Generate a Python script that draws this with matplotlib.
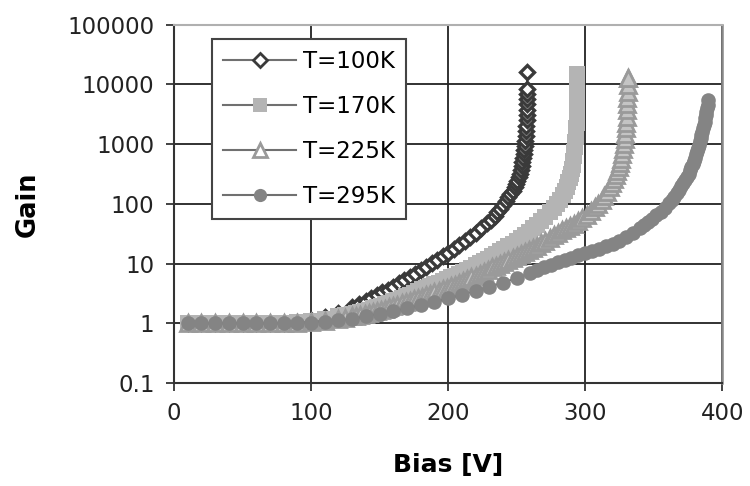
import matplotlib
matplotlib.use("Agg")
import matplotlib.pyplot as plt
from matplotlib.lines import Line2D

# ---- data ----
labels = ["T=100K", "T=170K", "T=225K", "T=295K"]

bias_100K = [10, 20, 30, 40, 50, 60, 70, 80, 90, 100, 110, 120, 130, 135, 140, 144, 148,
             152, 156, 160, 164, 168, 172, 176, 180, 184, 188, 192, 196, 200, 204, 208,
             212, 216, 220, 224, 228, 231, 234, 236, 238, 240, 242, 244, 245.5, 247,
             248.5, 249.5, 250.5, 251.5, 252.3, 253, 253.6, 254.2, 254.7, 255.2, 255.6,
             256, 256.3, 256.6, 256.9, 257.1, 257.3, 257.4, 257.5, 257.55, 257.6,
             257.65, 257.7, 257.7]
gain_100K = [1.0, 1.0, 1.0, 1.0, 1.0, 1.0, 1.0, 1.02, 1.05, 1.12, 1.25, 1.5, 1.85, 2.1,
             2.4, 2.65, 2.95, 3.3, 3.65, 4.1, 4.65, 5.25, 5.95, 6.8, 7.8, 8.9, 10.2,
             11.6, 13.3, 15.2, 17.6, 20.4, 23.7, 27.5, 33, 39, 47, 54, 63, 72, 82, 95,
             110, 128, 145, 165, 190, 215, 245, 280, 320, 370, 430, 500, 580, 680, 800,
             950, 1120, 1350, 1650, 2000, 2500, 3100, 3800, 4700, 5800, 7000, 8500,
             16000]

bias_170K = [10, 20, 30, 40, 50, 60, 70, 80, 90, 100, 110, 120, 125, 130, 133, 136, 139,
             142, 145, 148, 151, 154, 157, 160, 163, 166, 169, 172, 175, 178, 181, 184,
             187, 190, 193, 196, 199, 202, 205, 208, 211, 214, 217, 220, 223, 226, 229,
             232, 235, 238, 241, 244, 247, 250, 253, 256, 259, 262, 265, 268, 271, 274,
             277, 279.5, 281.5, 283.5, 285, 286.5, 287.7, 288.7, 289.5, 290.2, 290.8,
             291.3, 291.8, 292.2, 292.6, 292.9, 293.2, 293.4, 293.6, 293.7, 293.8,
             293.9, 294, 294, 294.1, 294.1, 294.2, 294.2]
gain_170K = [1.0, 1.0, 1.0, 1.0, 1.0, 1.0, 1.0, 1.02, 1.05, 1.1, 1.18, 1.3, 1.37, 1.45,
             1.5, 1.56, 1.63, 1.7, 1.79, 1.88, 1.98, 2.1, 2.22, 2.35, 2.5, 2.66, 2.84,
             3.03, 3.23, 3.45, 3.68, 3.93, 4.2, 4.5, 4.8, 5.13, 5.48, 5.87, 6.3, 6.77,
             7.28, 7.83, 8.45, 9.3, 10.1, 11, 12, 13.2, 14.5, 16, 17.7, 19.5, 21.6, 24,
             26.8, 30, 34, 39, 45, 52, 61, 72, 86, 100, 118, 140, 165, 195, 230, 270,
             320, 380, 450, 530, 630, 750, 900, 1080, 1300, 1550, 1850, 2250, 2700,
             3300, 4000, 5000, 6200, 7700, 9500, 15000]

bias_225K = [10, 20, 30, 40, 50, 60, 70, 80, 90, 100, 110, 120, 125, 130, 133, 136, 139,
             142, 145, 148, 151, 154, 157, 160, 163, 166, 169, 172, 175, 178, 181, 184,
             187, 190, 193, 196, 199, 202, 205, 208, 211, 214, 217, 220, 223, 226, 229,
             232, 235, 238, 241, 244, 247, 250, 253, 256, 259, 262, 265, 268, 271, 274,
             277, 280, 283, 286, 289, 292, 295, 298, 301, 304, 307, 309.5, 312, 314,
             316, 318, 319.5, 321, 322.3, 323.5, 324.5, 325.4, 326.2, 327, 327.7, 328.3,
             328.8, 329.3, 329.7, 330, 330.3, 330.5, 330.7, 330.8, 330.9, 331, 331,
             331.1]
gain_225K = [1.0, 1.0, 1.0, 1.0, 1.0, 1.0, 1.0, 1.0, 1.02, 1.05, 1.1, 1.18, 1.24, 1.3,
             1.34, 1.39, 1.44, 1.49, 1.55, 1.61, 1.68, 1.76, 1.85, 1.95, 2.05, 2.15,
             2.26, 2.38, 2.51, 2.65, 2.8, 2.96, 3.13, 3.3, 3.5, 3.7, 3.92, 4.18, 4.45,
             4.75, 5.1, 5.45, 5.85, 6.3, 6.8, 7.35, 7.95, 8.6, 9.2, 9.85, 10.6, 11.4,
             12.2, 13.2, 14.3, 15.5, 16.8, 18.3, 20, 22, 24.3, 27, 30, 33, 36, 39, 42.5,
             46.5, 51, 57, 65, 76, 88, 100, 118, 138, 160, 190, 220, 260, 305, 360, 420,
             490, 570, 680, 820, 1000, 1230, 1500, 1850, 2300, 2900, 3700, 4700, 6000,
             7600, 9800, 13000, 13000]

bias_295K = [10, 20, 30, 40, 50, 60, 70, 80, 90, 100, 110, 120, 130, 140, 150, 160, 170,
             180, 190, 200, 210, 220, 230, 240, 250, 260, 265, 270, 275, 280, 285, 290,
             295, 300, 305, 310, 315, 320, 325, 330, 335, 340, 343, 346, 349, 352, 355,
             358, 361, 363, 365, 367, 368.5, 370, 371.5, 373, 374.2, 375.4, 376.5,
             377.5, 378.4, 379.3, 380.1, 380.9, 381.6, 382.3, 383, 383.6, 384.2, 384.8,
             385.4, 386, 386.6, 387.1, 387.6, 388.1, 388.5, 388.9, 389.3, 389.6]
gain_295K = [1.0, 1.0, 1.0, 1.0, 1.0, 1.0, 1.0, 1.0, 1.0, 1.03, 1.07, 1.12, 1.19, 1.3,
             1.45, 1.6, 1.78, 2.0, 2.3, 2.6, 3.0, 3.5, 4.1, 4.8, 5.7, 7.0, 7.8, 8.7, 9.6,
             10.5, 11.5, 12.6, 13.8, 15, 16.3, 17.8, 19.5, 21.5, 24, 28, 33, 39, 44, 50,
             56, 64, 74, 86, 102, 116, 132, 152, 172, 196, 222, 252, 285, 322, 365, 412,
             465, 525, 595, 675, 765, 865, 980, 1110, 1260, 1430, 1620, 1840, 2090,
             2380, 2710, 3090, 3520, 4010, 4600, 5400]

x_ticks = [0, 100, 200, 300, 400]
y_ticks = [0.1, 1, 10, 100, 1000, 10000, 100000]
y_ticklabels = ["0.1", "1", "10", "100", "1000", "10000", "100000"]

# ---- figure ----
fig = plt.figure(figsize=(7.5, 4.86), dpi=100)
ax = fig.add_axes([0.232, 0.212, 0.731, 0.737])

line_col = "#707070"
c100, c170, c225, c295 = "#3a3a3a", "#b4b4b4", "#9a9a9a", "#848484"
ax.plot(bias_100K, gain_100K, color="#404040", lw=1.5, marker="D", ms=6.8,
        mfc="white", mec=c100, mew=2.4, zorder=3)
ax.plot(bias_170K, gain_170K, color=line_col, lw=1.5, marker="s", ms=11,
        mfc=c170, mec=c170, mew=0, zorder=4)
ax.plot(bias_225K, gain_225K, color=line_col, lw=1.5, marker="^", ms=11,
        mfc="#c4c4c4", mec=c225, mew=2.0, zorder=5)
ax.plot(bias_295K, gain_295K, color=line_col, lw=1.5, marker="o", ms=10.5,
        mfc=c295, mec=c295, mew=0, zorder=6)

handles = [
    Line2D([], [], color=line_col, lw=1.5, marker="D", ms=7, mfc="white", mec=c100, mew=2.0),
    Line2D([], [], color=line_col, lw=1.5, marker="s", ms=10, mfc=c170, mec=c170, mew=0),
    Line2D([], [], color=line_col, lw=1.5, marker="^", ms=10, mfc="white", mec=c225, mew=2.0),
    Line2D([], [], color=line_col, lw=1.5, marker="o", ms=9.5, mfc=c295, mec=c295, mew=0),
]

ax.set_yscale("log")
ax.set_xlim(0, 400)
ax.set_ylim(0.1, 100000)
ax.set_xticks(x_ticks)
ax.set_yticks(y_ticks)
ax.set_yticklabels(y_ticklabels)
ax.minorticks_off()
ax.tick_params(axis="both", labelsize=16.5, colors="#222222", length=6, width=1.2,
               direction="out", pad=8)

ax.grid(True, which="major", color="#222222", lw=1.3)
ax.set_axisbelow(True)
for side in ["left", "bottom"]:
    ax.spines[side].set_color("#333333")
    ax.spines[side].set_linewidth(1.5)
ax.spines["top"].set_color("#b0b0b0")
ax.spines["top"].set_linewidth(1.5)
ax.spines["right"].set_color("#888888")
ax.spines["right"].set_linewidth(1.8)

ax.set_xlabel("Bias [V]", fontsize=18, fontweight="bold", labelpad=20)
ax.set_ylabel("Gain", fontsize=18.5, fontweight="bold", labelpad=19)

leg = ax.legend(handles, labels, loc="upper left",
                bbox_to_anchor=(212 / 750, 1 - 39 / 486),
                bbox_transform=fig.transFigure, borderaxespad=0, fontsize=16.5,
                handlelength=3.15, handletextpad=0.3, labelspacing=0.95,
                borderpad=0.5, fancybox=False, framealpha=1, edgecolor="#444444")
leg.get_frame().set_linewidth(1.5)
leg.set_zorder(10)

fig.savefig("out.png", dpi=100)
